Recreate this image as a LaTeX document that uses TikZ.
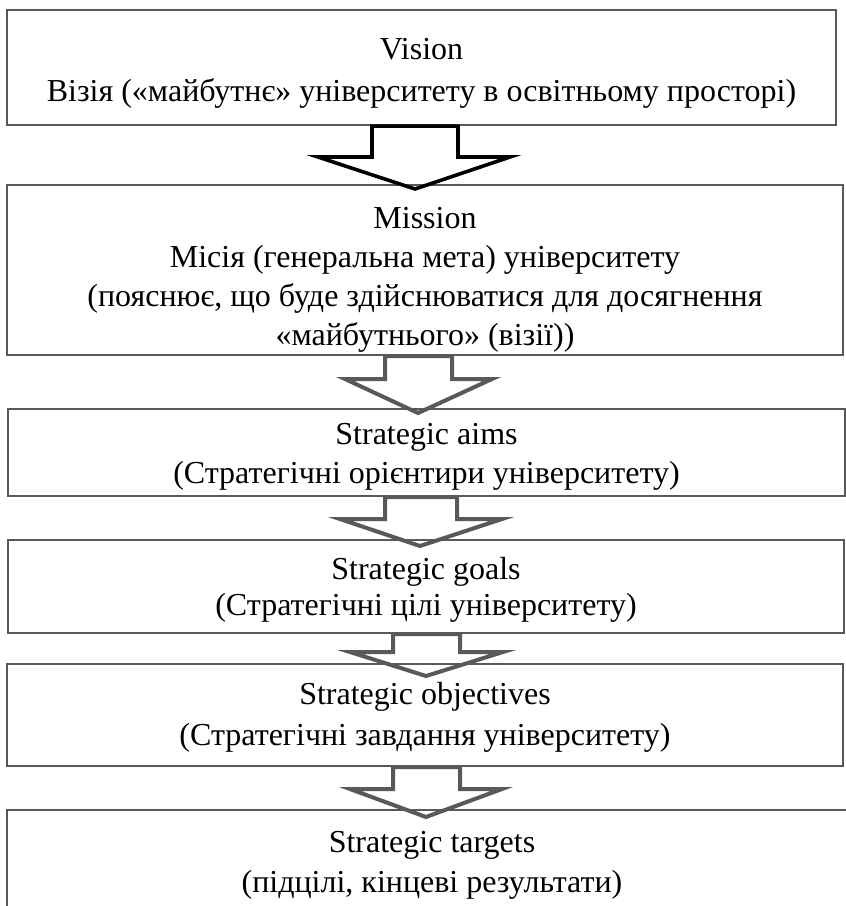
\documentclass[tikz,border=0pt]{standalone}
\usepackage{fontspec}
\setmainfont{Liberation Serif}
\definecolor{boxgray}{RGB}{89,89,89}
\definecolor{arrgray}{RGB}{89,89,89}
\tikzset{
  box/.style={draw=boxgray, line width=2.2pt, inner sep=0pt, rectangle},
  txt/.style={anchor=base, inner sep=0pt, font=\fontsize{32}{38}\selectfont},
  blk/.style={draw=black, line width=3.6pt, line join=miter},
  gry/.style={draw=arrgray, line width=4pt, line join=miter},
}
% #1 style, #2 from node, #3 shaft left, #4 shaft right, #5 wing y,
% #6 wing left, #7 wing right, #8 tip x, #9 tip y
\newcommand{\blockarr}[9]{%
  \draw[#1] (#3,0 |- #2.south) -- (#3,#5) -- (#6,#5) -- (#8,#9) -- (#7,#5)
    -- (#4,#5) -- (#4,0 |- #2.south) -- cycle;}
\begin{document}
\begin{tikzpicture}[x=1pt,y=-1pt]
\useasboundingbox (0,0) rectangle (846,906);
\begin{scope}
\clip (0,0) rectangle (846,906);
% boxes
\node[box, minimum width=829pt, minimum height=115pt] (b1) at (421.5,67.5) {};
\node[box, minimum width=836pt, minimum height=170pt] (b2) at (425,270) {};
\node[box, minimum width=837pt, minimum height=87pt]  (b3) at (426.5,452.5) {};
\node[box, minimum width=836pt, minimum height=93pt]  (b4) at (426,586.5) {};
\node[box, minimum width=836pt, minimum height=102pt] (b5) at (425,715) {};
\node[box, minimum width=850pt, minimum height=110pt] (b6) at (432,865) {};
% texts
\node[txt] (t1a) at (b1 |- 0,59)  {Vision};
\node[txt] (t1b) at (b1 |- 0,101) {Візія («майбутнє» університету в освітньому просторі)};
\node[txt] (t2a) at (b2 |- 0,228) {Mission};
\node[txt] (t2b) at (b2 |- 0,267) {Місія (генеральна мета) університету};
\node[txt] (t2c) at (b2 |- 0,306) {(пояснює, що буде здійснюватися для досягнення};
\node[txt] (t2d) at (b2 |- 0,345) {«майбутнього» (візії))};
\node[txt] (t3a) at (b3 |- 0,444) {Strategic aims};
\node[txt] (t3b) at (b3 |- 0,483) {(Стратегічні орієнтири університету)};
\node[txt] (t4a) at (b4 |- 0,579) {Strategic goals};
\node[txt] (t4b) at (b4 |- 0,615) {(Стратегічні цілі університету)};
\node[txt] (t5a) at (b5 |- 0,704) {Strategic objectives};
\node[txt] (t5b) at (b5 |- 0,745) {(Стратегічні завдання університету)};
\node[txt] (t6a) at (b6.center |- 0,852) {Strategic targets};
\node[txt] (t6b) at (b6.center |- 0,892) {(підцілі, кінцеві результати)};
% block arrows
\blockarr{blk}{b1}{372}{458}{157}{318}{510}{415}{189}
\blockarr{gry}{b2}{385}{452}{379}{345}{492}{418}{413}
\blockarr{gry}{b3}{385}{457}{519}{340}{502}{420}{546}
\blockarr{gry}{b4}{393}{460}{652}{350}{503}{426}{676}
\blockarr{gry}{b5}{393}{460}{789}{350}{502}{426}{817}
\end{scope}
\end{tikzpicture}
\end{document}
